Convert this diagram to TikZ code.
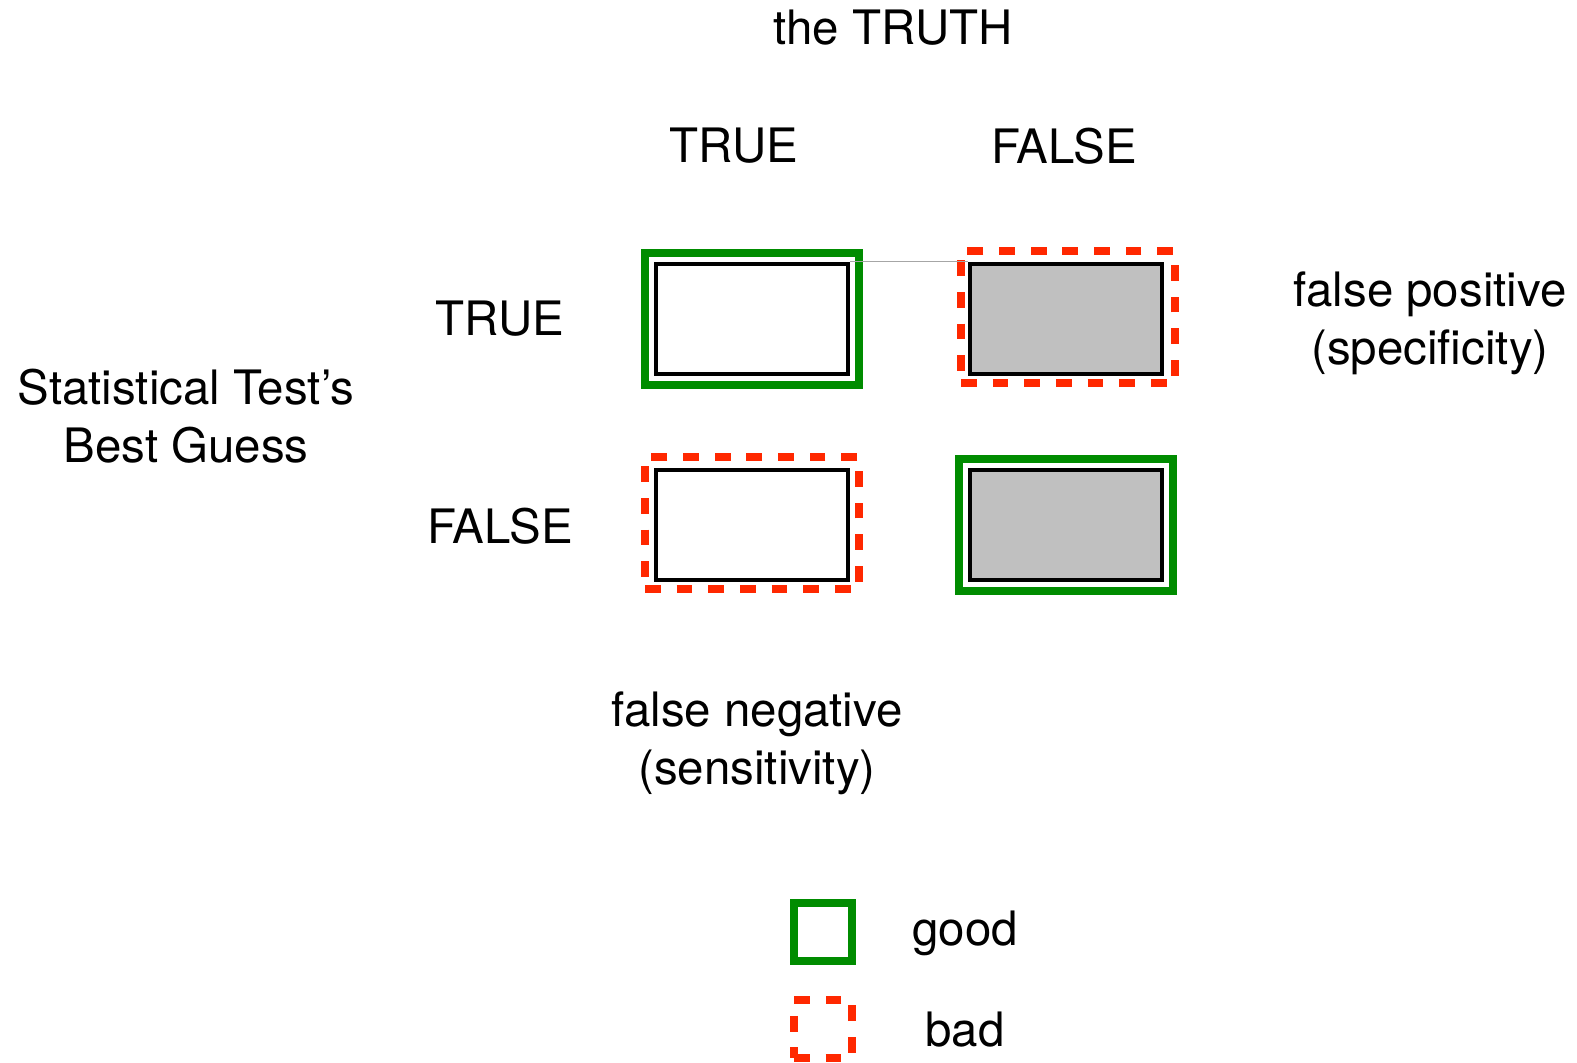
\documentclass[tikz,border=0pt]{standalone}
\usepackage{fontspec}
\setmainfont{TeX Gyre Heros}
\usepackage{tikz}
\definecolor{goodgreen}{RGB}{0, 140, 0}
\definecolor{badred}{RGB}{255, 40, 0}
\definecolor{cellgray}{RGB}{192, 192, 192}

\begin{document}
\begin{tikzpicture}[
    x=0.02cm, y=-0.02cm,
    txt/.style={font=\fontsize{27}{33}\selectfont, align=center, inner sep=0pt},
    cell/.style={draw, line width=2.6pt, minimum width=3.84cm,
                 minimum height=2.2cm, inner sep=0pt},
    goodbox/.style={draw=goodgreen, line width=4.5pt, minimum width=4.28cm,
                    minimum height=2.64cm, inner sep=0pt},
    badbox/.style={goodbox, draw=badred, dash pattern=on 9pt off 9pt},
  ]
    \useasboundingbox (0,0) rectangle (1577,1062);

    % Headings
    \node[txt] (truth) at (893,28) {the TRUTH};
    \node[txt] (coltrue) at (734,146) {TRUE};
    \node[txt] (colfalse) at (1064,146) {FALSE};
    \node[txt] (rowtrue) at (500,319) {TRUE};
    \node[txt] (rowfalse) at (500,526) {FALSE};
    \node[txt] (guess) at (186,416) {Statistical Test’s\\Best Guess};

    % The four cells
    \node[goodbox] (tpframe) at (752,319) {};
    \node[cell] (tp) at (752,319) {};
    \node[badbox] (fpframe) at (1068,317) {};
    \node[cell, fill=cellgray] (fp) at (1066,319) {};
    \node[badbox] (fnframe) at (752,523) {};
    \node[cell] (fn) at (752,525) {};
    \node[goodbox] (tnframe) at (1066,525) {};
    \node[cell, fill=cellgray] (tn) at (1066,525) {};

    \draw[gray!70, line width=0.6pt] (tp.north east) -- (fp.north west);

    % Error labels
    \node[txt] (fplabel) at (1430,323) {false positive\\(specificity)};
    \node[txt] (fnlabel) at (757,743) {false negative\\(sensitivity)};

    % Legend
    \node[goodbox, minimum width=1.16cm, minimum height=1.16cm] (goodkey) at (823,932) {};
    \node[txt] (goodtxt) at (965,933) {good};
    \node[badbox, minimum width=1.16cm, minimum height=1.16cm] (badkey) at (823,1029) {};
    \node[txt] (badtxt) at (965,1030) {bad};
  \end{tikzpicture}
\end{document}
